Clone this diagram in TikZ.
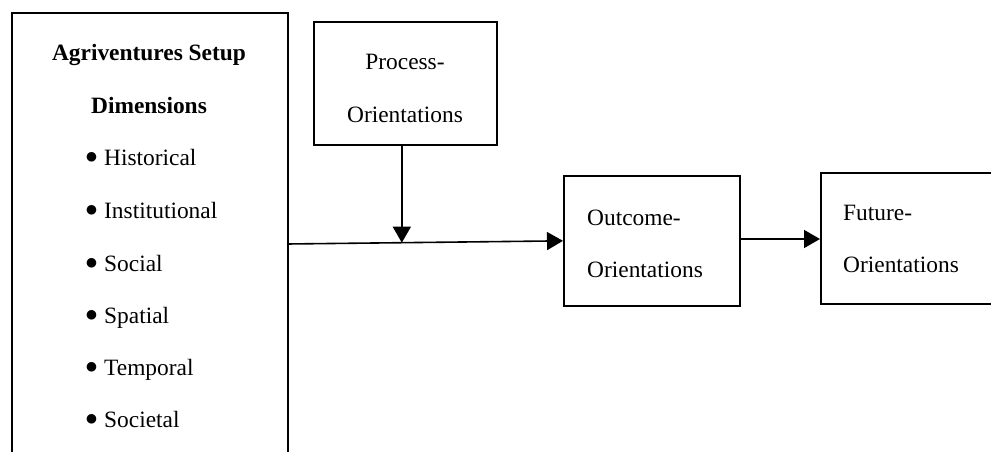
\documentclass[tikz,border=0pt]{standalone}
\usepackage{fontspec}
\setmainfont{Liberation Serif}
\usetikzlibrary{arrows.meta,calc}
\begin{document}
\begin{tikzpicture}[x=1pt,y=-1pt,
  box/.style={draw=black,line width=1.7pt,rectangle,inner sep=0pt},
  txt/.style={inner sep=0pt,font=\fontsize{23.4}{28}\selectfont},
  btxt/.style={txt,font=\fontsize{23.4}{28}\selectfont\bfseries},
  conn/.style={line width=1.6pt,-{Triangle[length=16pt,width=18pt]}}]
\useasboundingbox (0,0) rectangle (991,452);
\clip (0,0) rectangle (991,452);
% boxes
\node[box,minimum width=276pt,minimum height=480pt,anchor=north west] (left) at (11,12) {};
\node[box,minimum width=183pt,minimum height=123pt,anchor=north west] (process) at (313,21) {};
\node[box,minimum width=176pt,minimum height=130pt,anchor=north west] (outcome) at (563,175) {};
\node[box,minimum width=200pt,minimum height=131pt,anchor=north west] (future) at (820,172) {};
% left texts
\node[btxt] (t1) at (149,55) {Agriventures Setup};
\node[btxt] (t2) at (149,105) {Dimensions};
\foreach \n/\yy/\lab in {b1/158/Historical,b2/211/Institutional,b3/264/Social,b4/316/Spatial,b5/368/Temporal,b6/420/Societal}{
  \node[txt] (\n d) at (91.5,\yy) {$\bullet$};
  \node[txt,anchor=base west] (\n) at (104,\yy+7) {\lab};
}
% other texts
\node[txt] (p1) at (405,62) {Process-};
\node[txt] (p2) at (405,115) {Orientations};
\node[txt,anchor=base west] (o1) at (587,225) {Outcome-};
\node[txt,anchor=base west] (o2) at (587,277) {Orientations};
\node[txt,anchor=base west] (f1) at (843,220) {Future-};
\node[txt,anchor=base west] (f2) at (843,272) {Orientations};
% connectors
\coordinate (jstart) at (287,244);
\coordinate (jm) at ($(jstart)!0.416!(outcome.west)$);
\draw[conn] (jstart) -- (outcome.west);
\draw[conn] (process.south -| jm) -- (jm);
\draw[conn] (outcome.east |- 0,239) -- (future.west |- 0,239);
\end{tikzpicture}
\end{document}
